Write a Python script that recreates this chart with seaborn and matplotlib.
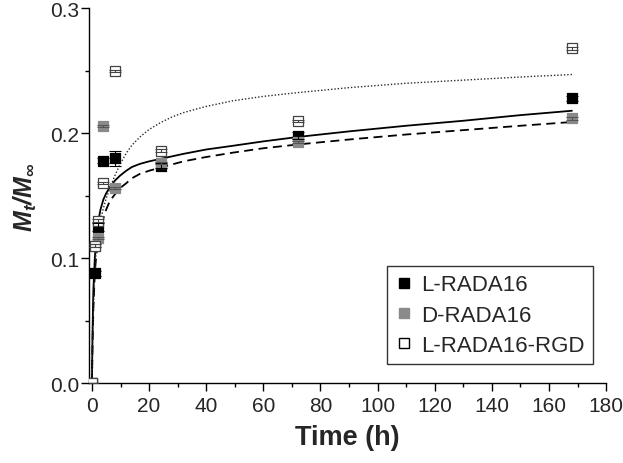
import numpy as np
import pandas as pd
import matplotlib
matplotlib.use("Agg")
import matplotlib.pyplot as plt
import seaborn as sns
from matplotlib.lines import Line2D

times = [0, 1, 2, 4, 8, 24, 72, 168]
l_rada = [0, 0.088, 0.125, 0.178, 0.180, 0.174, 0.198, 0.228]
d_rada = [0, 0.110, 0.116, 0.206, 0.156, 0.176, 0.193, 0.212]
l_rgd = [0, 0.110, 0.130, 0.160, 0.250, 0.186, 0.210, 0.268]
l_rada_err = [0, 0.002, 0.003, 0.002, 0.006, 0.002, 0.003, 0.002]
d_rada_err = [0, 0.001, 0.001, 0.001, 0.001, 0.001, 0.001, 0.001]
l_rgd_err = [0, 0.001, 0.001, 0.001, 0.001, 0.001, 0.001, 0.001]

# Fitted curves
fit_t = [0, 0.2, 0.5, 1, 1.5, 2, 3, 4, 5, 6.3, 8, 9.8, 12, 14, 16.8, 20, 24, 28,
         32, 40, 49.4, 60, 72, 90, 110, 130, 150, 168]
fit_l_rada = [0, 0.040, 0.075, 0.100, 0.116, 0.127, 0.139, 0.147, 0.152, 0.157,
              0.162, 0.166, 0.170, 0.173, 0.1755, 0.1775, 0.1795, 0.1815, 0.1835,
              0.187, 0.190, 0.1935, 0.197, 0.2015, 0.206, 0.210, 0.2145, 0.218]
fit_d_rada = [0, 0.030, 0.060, 0.088, 0.102, 0.112, 0.124, 0.132, 0.139, 0.146,
              0.151, 0.156, 0.160, 0.164, 0.1675, 0.170, 0.1725, 0.175, 0.1775,
              0.181, 0.1845, 0.188, 0.191, 0.195, 0.199, 0.2025, 0.206, 0.209]
fit_l_rgd = [0, 0.030, 0.060, 0.090, 0.106, 0.118, 0.130, 0.140, 0.148, 0.156,
             0.166, 0.175, 0.184, 0.1905, 0.197, 0.203, 0.2085, 0.213, 0.2165,
             0.2215, 0.226, 0.2295, 0.2325, 0.2365, 0.240, 0.2425, 0.245, 0.247]

labels = ["L-RADA16", "D-RADA16", "L-RADA16-RGD"]

sns.set_style("ticks")
plt.rcParams["font.family"] = ["Liberation Sans", "DejaVu Sans"]
plt.rcParams["mathtext.fontset"] = "custom"
plt.rcParams["mathtext.bfit"] = "Liberation Sans:bold:italic"
plt.rcParams["mathtext.it"] = "Liberation Sans:italic"
plt.rcParams["mathtext.bf"] = "Liberation Sans:bold"
plt.rcParams["mathtext.rm"] = "Liberation Sans"

fig = plt.figure(figsize=(6.23, 4.64), dpi=100)
ax = fig.add_axes([0.143, 0.172, 0.830, 0.808])

fits = pd.DataFrame({"t": fit_t, "L": fit_l_rada, "D": fit_d_rada, "R": fit_l_rgd})
sns.lineplot(data=fits, x="t", y="L", ax=ax, color="black", lw=1.3, linestyle="-")
sns.lineplot(data=fits, x="t", y="D", ax=ax, color="black", lw=1.3, linestyle=(0, (5, 3)))
sns.lineplot(data=fits, x="t", y="R", ax=ax, color="#2a2a2a", lw=1.0, linestyle=(0, (1, 1.4)))

series = [
    (l_rada, l_rada_err, "black", "black", "black"),
    (d_rada, d_rada_err, "#8a8a8a", "#8a8a8a", "#555555"),
    (l_rgd, l_rgd_err, "white", "#444444", "#444444"),
]
for vals, err, fc, ec, barc in series:
    sns.scatterplot(x=times, y=vals, ax=ax, marker="s", s=62, color=fc,
                    edgecolor=ec, linewidth=0.9, zorder=4)
    ax.errorbar(times, vals, yerr=err, fmt="none", ecolor=barc, elinewidth=0.8,
                capsize=4, capthick=0.8, zorder=5)

ax.set_xlim(-1, 180)
ax.set_ylim(0, 0.3)
ax.set_xticks(np.arange(0, 181, 20))
ax.set_xticks(np.arange(0, 181, 10), minor=True)
ax.set_yticks([0.0, 0.1, 0.2, 0.3])
ax.set_yticks(np.arange(0, 0.301, 0.05), minor=True)
ax.yaxis.set_major_formatter(matplotlib.ticker.FormatStrFormatter("%.1f"))
ax.tick_params(which="major", length=5.5, width=1, labelsize=15, color="black")
ax.tick_params(which="minor", length=3, width=1, color="black")
ax.tick_params(axis="y", which="major", pad=1.5)
ax.tick_params(axis="x", which="major", pad=4)
for s in ["left", "bottom"]:
    ax.spines[s].set_linewidth(1.0)
    ax.spines[s].set_color("black")
sns.despine(ax=ax)

ax.set_xlabel("Time (h)", fontsize=19.5, fontweight="bold", labelpad=6)
ax.set_ylabel(r"$\mathbfit{M_t/M_\infty}$", fontsize=18, labelpad=8)

handles = [
    Line2D([], [], marker="s", ls="none", color="black", mec="black", ms=7.5),
    Line2D([], [], marker="s", ls="none", color="#8a8a8a", mec="#8a8a8a", ms=7.5),
    Line2D([], [], marker="s", ls="none", mfc="white", mec="black", ms=7.5),
]
leg = ax.legend(handles, labels, loc="lower right", bbox_to_anchor=(0.975, 0.05),
                fontsize=16, frameon=True, fancybox=False, edgecolor="black",
                handlelength=0.7, handletextpad=0.45, borderpad=0.38,
                labelspacing=0.42, borderaxespad=0)
leg.get_frame().set_linewidth(1.0)

fig.savefig("out.png", dpi=100)
